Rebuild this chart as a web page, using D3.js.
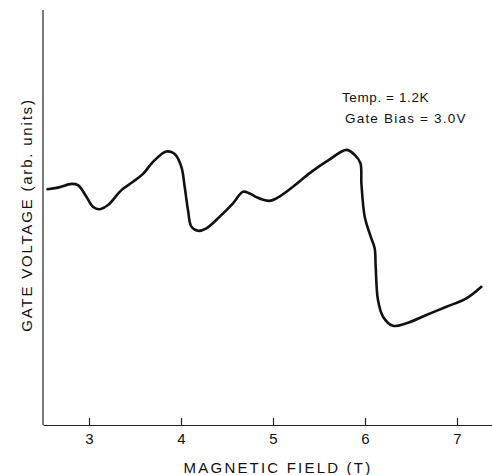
<!DOCTYPE html>
<html>
<head>
<meta charset="utf-8">
<script src="https://cdn.jsdelivr.net/npm/d3@7"></script>
<style>
  body { margin: 0; background: #fff; }
  text { font-family: "Liberation Sans", Arial, sans-serif; fill: #111; }
</style>
</head>
<body>
<div id="chart"></div>
<script>
// magnetic field (T) and gate voltage (arb. units)
const field = [2.548, 2.663, 2.809, 2.880, 2.972, 3.043, 3.116, 3.207, 3.352, 3.478,
               3.587, 3.696, 3.841, 3.932, 4.004, 4.040, 4.076, 4.113, 4.185, 4.276,
               4.421, 4.565, 4.674, 4.747, 4.820, 4.957, 5.037, 5.217, 5.399, 5.616,
               5.798, 5.888, 5.950, 5.961, 5.997, 6.062, 6.105, 6.116, 6.141, 6.196,
               6.304, 6.450, 6.667, 6.885, 7.102, 7.265];
const voltage = [5.68, 5.72, 5.81, 5.78, 5.50, 5.26, 5.20, 5.30, 5.66, 5.86,
                 6.05, 6.34, 6.59, 6.53, 6.22, 5.74, 5.18, 4.78, 4.68, 4.74,
                 5.02, 5.34, 5.62, 5.58, 5.49, 5.40, 5.46, 5.74, 6.07, 6.40,
                 6.63, 6.51, 6.31, 5.82, 5.02, 4.54, 4.26, 3.81, 3.01, 2.61,
                 2.39, 2.45, 2.65, 2.85, 3.05, 3.33];
const xTicks = [3, 4, 5, 6, 7];
const notes = ["Temp. = 1.2K", "Gate Bias = 3.0V"];

const width = 492, height = 475;
const margin = {top: 10, right: 0, bottom: 50, left: 43};

const svg = d3.select("#chart").append("svg")
    .attr("width", width)
    .attr("height", height);

const x = d3.scaleLinear()
    .domain([2.5, 2.5 + (width - margin.left) / 92])
    .range([margin.left, width - margin.right]);

const y = d3.scaleLinear()
    .domain([0, 10])
    .range([height - margin.bottom, margin.top]);

// x axis with ticks pointing up into the plot
const xAxis = svg.append("g")
    .attr("transform", "translate(0," + (height - margin.bottom) + ")")
    .call(d3.axisBottom(x).tickValues(xTicks).tickFormat(d3.format("d"))
        .tickSizeInner(-7).tickSizeOuter(0).tickPadding(8));
xAxis.select(".domain").attr("stroke", "#222").attr("stroke-width", 1.2);
xAxis.selectAll(".tick line").attr("stroke", "#222").attr("stroke-width", 1.2);
xAxis.selectAll(".tick text")
    .attr("font-size", 15)
    .style("font-family", "'Liberation Sans', Arial, sans-serif");

// plain y axis, no ticks
svg.append("line")
    .attr("x1", margin.left).attr("x2", margin.left)
    .attr("y1", y(10)).attr("y2", y(0))
    .attr("stroke", "#222")
    .attr("stroke-width", 1.2);

// axis titles
svg.append("text")
    .attr("x", 278)
    .attr("y", 473)
    .attr("text-anchor", "middle")
    .attr("font-size", 15)
    .attr("letter-spacing", 2.2)
    .text("MAGNETIC FIELD (T)");

svg.append("text")
    .attr("transform", "translate(32,215) rotate(-90)")
    .attr("text-anchor", "middle")
    .attr("font-size", 15)
    .attr("letter-spacing", 1.8)
    .text("GATE VOLTAGE (arb. units)");

// annotation
notes.forEach(function(t, i) {
    svg.append("text")
        .attr("x", i === 0 ? 342 : 345)
        .attr("y", 102 + i * 21)
        .attr("font-size", 13.5)
        .attr("letter-spacing", i === 0 ? 0.6 : 1.2)
        .text(t);
});

// trace
const pts = field.map((f, i) => [f, voltage[i]]);
const line = d3.line()
    .x(d => x(d[0]))
    .y(d => y(d[1]))
    .curve(d3.curveCatmullRom.alpha(0.5));

svg.append("path")
    .datum(pts)
    .attr("d", line)
    .attr("fill", "none")
    .attr("stroke", "#111")
    .attr("stroke-width", 2.6)
    .attr("stroke-linejoin", "round")
    .attr("stroke-linecap", "round");
</script>
</body>
</html>
